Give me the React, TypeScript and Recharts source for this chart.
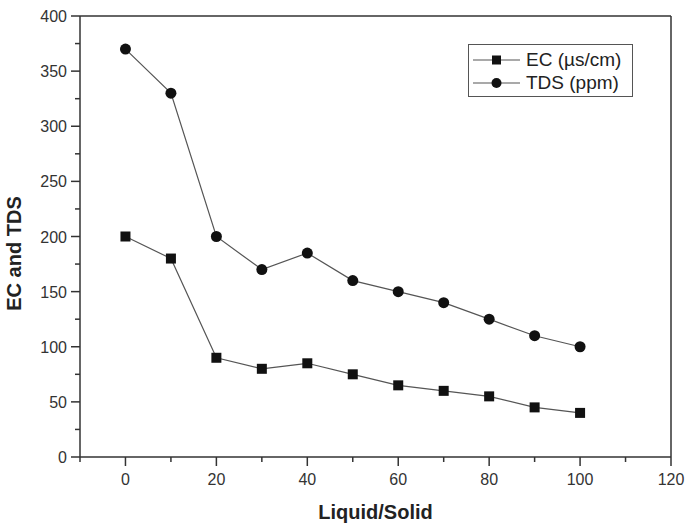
import React from "react";
import { LineChart, Line, XAxis, YAxis, ReferenceLine, Legend, Label } from "recharts";

const ratios = [0, 10, 20, 30, 40, 50, 60, 70, 80, 90, 100];
const ecValues = [200, 180, 90, 80, 85, 75, 65, 60, 55, 45, 40];
const tdsValues = [370, 330, 200, 170, 185, 160, 150, 140, 125, 110, 100];
const xTicks = [-10, 0, 10, 20, 30, 40, 50, 60, 70, 80, 90, 100, 110, 120];
const yTicks = [0, 25, 50, 75, 100, 125, 150, 175, 200, 225, 250, 275, 300, 325, 350, 375, 400];

const data = ratios.map((r, i) => ({ x: r, ec: ecValues[i], tds: tdsValues[i] }));

const FONT = "'Liberation Sans', Arial, Helvetica, sans-serif";
const AXIS = "#333";
const LINE = "#555";

const XTick = (props: any) => {
  const { x, y, payload } = props;
  const v = payload.value;
  const major = v >= 0 && v % 20 === 0;
  return (
    <g>
      <line x1={x} y1={y} x2={x} y2={y + (major ? 9 : 5)} stroke={AXIS} strokeWidth={1.5} />
      {major && (
        <text x={x} y={y + 28} textAnchor="middle" fontSize={16} fill="#333" fontFamily={FONT}>
          {v}
        </text>
      )}
    </g>
  );
};

const YTick = (props: any) => {
  const { x, y, payload } = props;
  const v = payload.value;
  const major = v % 50 === 0;
  return (
    <g>
      <line x1={x} y1={y} x2={x - (major ? 9 : 5)} y2={y} stroke={AXIS} strokeWidth={1.5} />
      {major && (
        <text x={x - 13} y={y + 6} textAnchor="end" fontSize={16} fill="#333" fontFamily={FONT}>
          {v}
        </text>
      )}
    </g>
  );
};

const SquareDot = (props: any) => {
  const { cx, cy } = props;
  if (cx == null || cy == null) return null;
  return <rect x={cx - 5} y={cy - 5} width={10} height={10} fill="#111" />;
};

const CircleDot = (props: any) => {
  const { cx, cy } = props;
  if (cx == null || cy == null) return null;
  return <circle cx={cx} cy={cy} r={5.5} fill="#111" />;
};

const legendItems = [
  { label: "EC (\u00b5s/cm)", shape: "square" },
  { label: "TDS (ppm)", shape: "circle" },
];

const LegendContent = () => (
  <div
    style={{
      position: "relative",
      width: 163,
      height: 51,
      border: "1px solid #555",
      background: "#fff",
      fontFamily: FONT,
      fontSize: 19,
      color: "#222",
    }}
  >
    {legendItems.map((it, i) => (
      <div key={it.label} style={{ position: "absolute", left: 0, top: 4 + i * 23, height: 22, width: 163 }}>
        <svg width={52} height={22} style={{ position: "absolute", left: 3, top: 0 }}>
          <line x1={1} y1={11} x2={48} y2={11} stroke={LINE} strokeWidth={1.2} />
          {it.shape === "square" ? (
            <rect x={20} y={6.5} width={9} height={9} fill="#111" />
          ) : (
            <circle cx={24.5} cy={11} r={5} fill="#111" />
          )}
        </svg>
        <span style={{ position: "absolute", left: 57, top: 0, lineHeight: "22px", whiteSpace: "nowrap" }}>
          {it.label}
        </span>
      </div>
    ))}
  </div>
);

const YLabel = (props: any) => {
  const vb = props.viewBox || { x: 0, y: 0, width: 0, height: 0 };
  const cx = vb.x + 21;
  const cy = vb.y + vb.height / 2 + 17;
  return (
    <text
      x={cx}
      y={cy}
      transform={`rotate(-90, ${cx}, ${cy})`}
      textAnchor="middle"
      fontSize={20}
      fontWeight="bold"
      fill="#222"
      fontFamily={FONT}
    >
      EC and TDS
    </text>
  );
};

const XLabel = (props: any) => {
  const vb = props.viewBox || { x: 0, y: 0, width: 0, height: 0 };
  const cx = vb.x + vb.width / 2;
  const cy = vb.y + vb.height - 10;
  return (
    <text x={cx} y={cy} textAnchor="middle" fontSize={20} fontWeight="bold" fill="#222" fontFamily={FONT}>
      Liquid/Solid
    </text>
  );
};

export default function App() {
  return (
    <div style={{ position: "absolute", left: 0, top: 0, width: 687, height: 529, background: "#fff" }}>
      <LineChart width={687} height={529} data={data} margin={{ top: 16, right: 16, bottom: 0, left: 0 }}>
        <XAxis
          type="number"
          dataKey="x"
          domain={[-10, 120]}
          ticks={xTicks}
          interval={0}
          tickSize={0}
          tickMargin={0}
          tickLine={false}
          tick={<XTick />}
          height={72}
          axisLine={{ stroke: AXIS, strokeWidth: 1.5 }}
        >
          <Label content={<XLabel />} />
        </XAxis>
        <YAxis
          type="number"
          domain={[0, 400]}
          ticks={yTicks}
          interval={0}
          tickSize={0}
          tickMargin={0}
          tickLine={false}
          tick={<YTick />}
          width={80}
          axisLine={{ stroke: AXIS, strokeWidth: 1.5 }}
        >
          <Label content={<YLabel />} />
        </YAxis>
        <ReferenceLine y={400} stroke={AXIS} strokeWidth={1.5} />
        <ReferenceLine x={120} stroke={AXIS} strokeWidth={1.5} />
        <Line
          type="linear"
          dataKey="ec"
          name="EC (µs/cm)"
          stroke={LINE}
          strokeWidth={1.2}
          dot={<SquareDot />}
          activeDot={false}
          isAnimationActive={false}
        />
        <Line
          type="linear"
          dataKey="tds"
          name="TDS (ppm)"
          stroke={LINE}
          strokeWidth={1.2}
          dot={<CircleDot />}
          activeDot={false}
          isAnimationActive={false}
        />
        <Legend
          layout="vertical"
          align="center"
          verticalAlign="middle"
          content={<LegendContent />}
          wrapperStyle={{ top: 44, left: 468, width: 165 }}
        />
      </LineChart>
    </div>
  );
}
